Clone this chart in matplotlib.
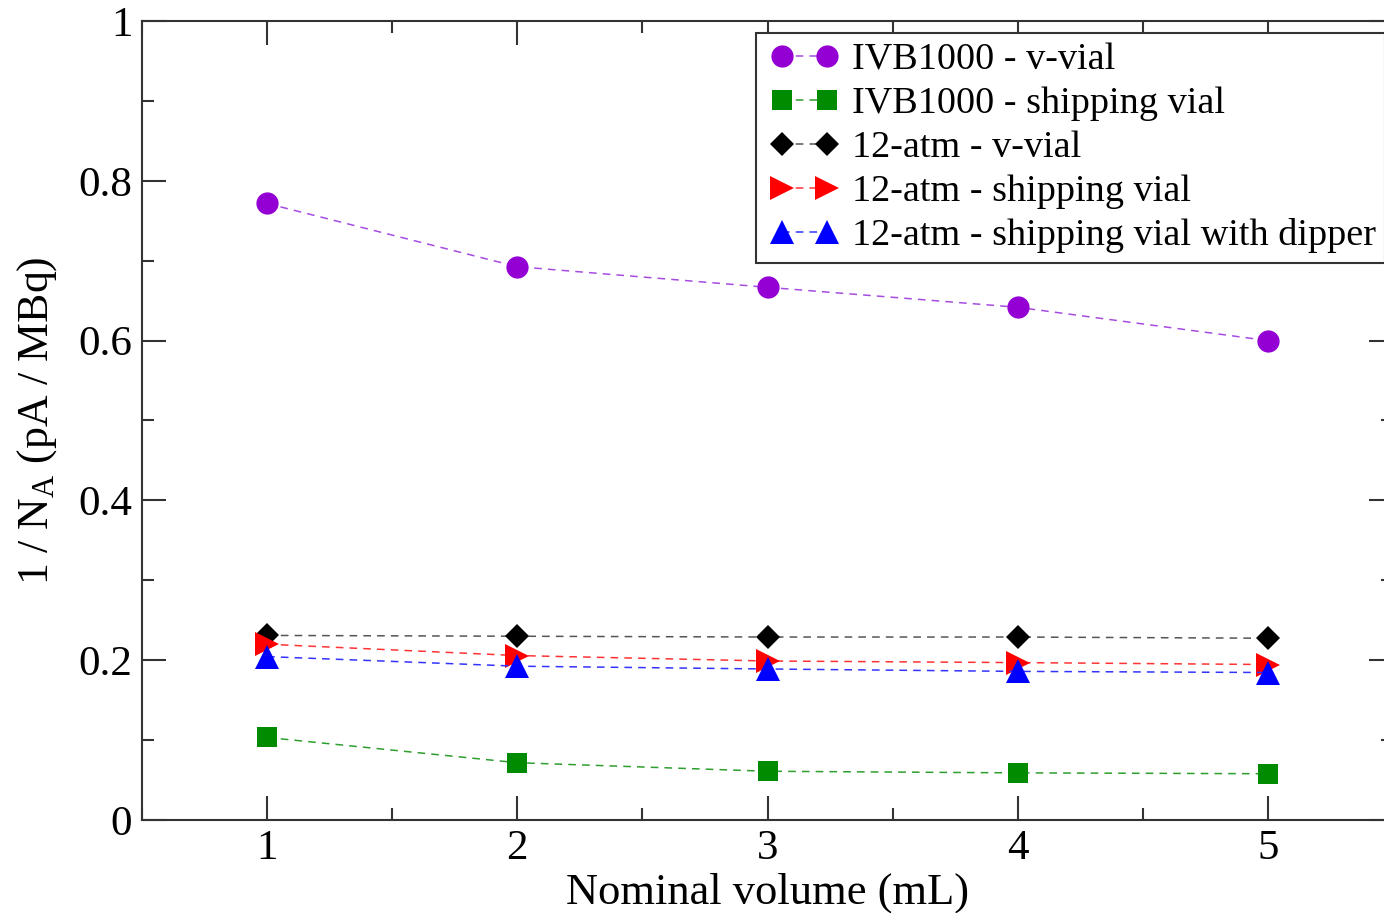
import matplotlib
matplotlib.use("Agg")
import matplotlib.pyplot as plt
from matplotlib.ticker import MultipleLocator
from matplotlib.legend_handler import HandlerLine2D

plt.rcParams['font.family'] = ['Liberation Serif', 'DejaVu Serif']
plt.rcParams['mathtext.fontset'] = 'custom'
plt.rcParams['mathtext.rm'] = 'Liberation Serif'
plt.rcParams['mathtext.it'] = 'Liberation Serif:italic'

volumes = [1, 2, 3, 4, 5]
ivb_vvial = [0.7716, 0.6925, 0.6667, 0.6417, 0.600]
ivb_shipping = [0.1033, 0.0717, 0.061, 0.059, 0.0579]
atm_vvial = [0.231, 0.2300, 0.229, 0.229, 0.2275]
atm_shipping = [0.220, 0.2058, 0.199, 0.197, 0.1946]
atm_dipper = [0.2045, 0.1925, 0.189, 0.186, 0.1846]

labels = ["IVB1000 - v-vial", "IVB1000 - shipping vial", "12-atm - v-vial",
          "12-atm - shipping vial", "12-atm - shipping vial with dipper"]

fig = plt.figure(figsize=(13.84, 9.13), dpi=100)
ax = fig.add_axes([142/1384, 1-820/913, (1393-142)/1384, (820-21)/913])

styles = [
    (ivb_vvial, 'o', '#9400D3', '#A64CE0', 16),
    (ivb_shipping, 's', '#008B00', '#2E9E2E', 15),
    (atm_vvial, 'D', '#000000', '#555555', 12),
    (atm_shipping, '>', '#FF0000', '#FF3333', 17),
    (atm_dipper, '^', '#0000FF', '#3333FF', 17),
]
for (vals, mk, mc, lc, ms), lab in zip(styles, labels):
    ax.plot(volumes, vals, linestyle=(0, (5, 4)), color=lc, lw=1.1,
            marker=mk, markersize=ms, markerfacecolor=mc, markeredgecolor=mc,
            markeredgewidth=0, label=lab)

ax.set_xlim(0.5, 5.5)
ax.set_ylim(0, 1)
ax.xaxis.set_major_locator(MultipleLocator(1))
ax.xaxis.set_minor_locator(MultipleLocator(0.5))
ax.yaxis.set_minor_locator(MultipleLocator(0.1))
ax.set_yticks([0, 0.2, 0.4, 0.6, 0.8, 1.0])
ax.set_yticklabels(['0', '0.2', '0.4', '0.6', '0.8', '1'])
ax.tick_params(which='both', direction='in', top=True, right=True,
               labelsize=31, color='#333333', width=1.5, pad=7)
ax.tick_params(which='major', length=17)
ax.tick_params(which='minor', length=8.5)
for s in ax.spines.values():
    s.set_linewidth(1.5)
    s.set_color('#333333')

ax.set_xlabel("Nominal volume (mL)", fontsize=32, labelpad=3)
ax.set_ylabel(r"1 / N$_\mathrm{A}$ (pA / MBq)", fontsize=31.5, labelpad=14)

fs = 27.5
leg = ax.legend(loc='upper left', bbox_to_anchor=((756-142)/1251, 1-(33-21)/799),
                fontsize=fs, handlelength=2.04, handletextpad=0.22,
                borderpad=0.25, labelspacing=0.24, fancybox=False, framealpha=1,
                edgecolor='#333333', borderaxespad=0,
                handler_map={matplotlib.lines.Line2D: HandlerLine2D(numpoints=2, marker_pad=0.44)})
leg.get_frame().set_linewidth(1.5)

fig.savefig("out.png", dpi=100)
